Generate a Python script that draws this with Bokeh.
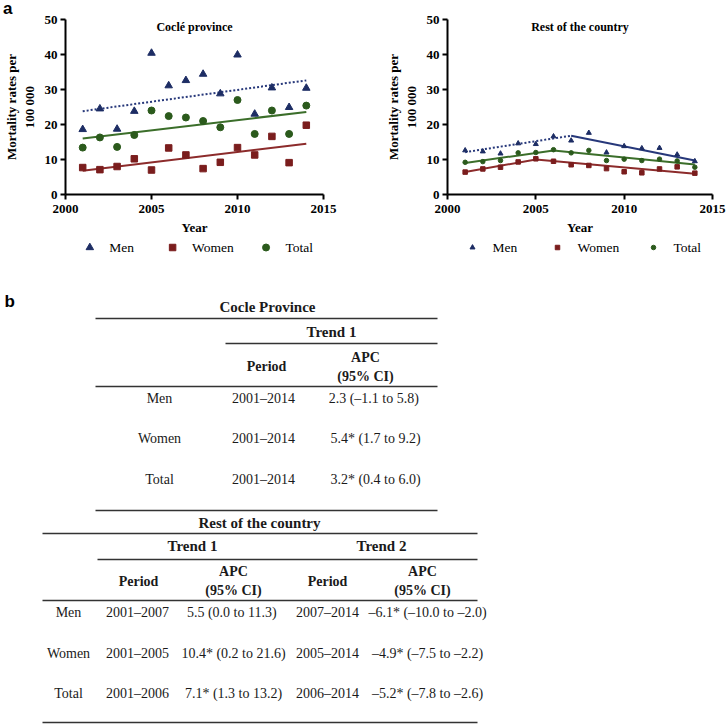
from bokeh.plotting import figure
from bokeh.models import Range1d, FixedTicker, Label, Div
from bokeh.layouts import column, row
from bokeh.embed import file_html
from bokeh.resources import INLINE
from bokeh.core.properties import value

# ---------------- data ----------------
years = [2001, 2002, 2003, 2004, 2005, 2006, 2007, 2008, 2009, 2010, 2011, 2012, 2013, 2014]

cocle_men = [18.6, 24.5, 18.7, 23.8, 40.4, 31.1, 32.6, 34.4, 28.8, 39.9, 23.0, 30.5, 24.9, 30.4]
cocle_women = [7.7, 7.1, 8.0, 10.2, 7.0, 13.3, 11.3, 7.4, 9.2, 13.4, 11.3, 16.6, 9.1, 19.8]
cocle_total = [13.4, 16.3, 13.6, 17.0, 24.0, 22.4, 22.0, 21.0, 19.2, 27.0, 17.3, 24.0, 17.3, 25.4]

rest_men = [12.6, 12.3, 11.7, 14.6, 14.4, 16.6, 15.4, 17.6, 12.0, 13.8, 13.2, 13.3, 11.4, 9.5]
rest_women = [6.4, 7.3, 7.8, 9.3, 10.2, 9.5, 8.5, 8.3, 7.4, 6.5, 6.2, 7.3, 7.9, 6.1]
rest_total = [9.2, 9.4, 9.7, 11.9, 12.0, 12.8, 11.9, 12.6, 9.7, 10.1, 9.7, 10.1, 9.6, 7.8]

# fitted joinpoint trends (year breakpoints and fitted rates)
cocle_trend_years = [2001, 2014]
cocle_men_trend = [23.8, 32.6]
cocle_women_trend = [6.8, 14.5]
cocle_total_trend = [16.0, 23.6]

rest_men_trend1_years = [2001, 2007]
rest_men_trend1 = [12.1, 16.8]
rest_men_trend2_years = [2007, 2014]
rest_men_trend2 = [16.8, 9.7]
rest_women_trend_years = [2001, 2005, 2014]
rest_women_trend = [6.4, 10.0, 5.9]
rest_total_trend_years = [2001, 2006, 2014]
rest_total_trend = [9.0, 12.6, 8.6]

x_ticks = [2000, 2005, 2010, 2015]
y_ticks = [0, 10, 20, 30, 40, 50]
series_names = ["Men", "Women", "Total"]

# table b
cocle_title = "Cocle Province"
rest_title = "Rest of the country"
trend_labels = ["Trend 1", "Trend 2"]
row_labels = ["Men", "Women", "Total"]
cocle_period = ["2001–2014", "2001–2014", "2001–2014"]
cocle_apc = ["2.3  (–1.1 to 5.8)", "5.4* (1.7 to 9.2)", "3.2* (0.4 to 6.0)"]
rest_period1 = ["2001–2007", "2001–2005", "2001–2006"]
rest_apc1 = ["5.5  (0.0 to 11.3)", "10.4* (0.2 to 21.6)", "7.1* (1.3 to 13.2)"]
rest_period2 = ["2007–2014", "2005–2014", "2006–2014"]
rest_apc2 = ["–6.1* (–10.0 to –2.0)", "–4.9* (–7.5 to –2.2)", "–5.2* (–7.8 to –2.6)"]

# ---------------- style ----------------
SERIF = "Liberation Serif"
SANS = "Liberation Sans"
C_MEN = "#1d2d64"
C_WOMEN = "#7a1d1d"
C_TOTAL = "#2b5a1c"
L_MEN = "#27387a"
L_WOMEN = "#8c2b2b"
L_TOTAL = "#3b6e2a"
MARKERS = ["triangle", "square", "circle"]
MCOLORS = [C_MEN, C_WOMEN, C_TOTAL]

PLOT_H = 238
LEG_H = 22
TOTAL_W = 726
TOTAL_H = 724
PANEL_W = 363


def make_panel(title, men, women, total, trend_lines, b_left, b_right, msizes):
    p = figure(width=PANEL_W, height=PLOT_H, x_range=Range1d(2000, 2015), y_range=Range1d(0, 50),
               output_backend="svg", toolbar_location=None,
               min_border_left=b_left, min_border_right=b_right,
               min_border_top=19, min_border_bottom=44)
    p.grid.visible = False
    p.outline_line_color = None

    for ax in (p.xaxis[0], p.yaxis[0]):
        ax.axis_line_width = 2
        ax.axis_line_color = "black"
        ax.major_tick_line_width = 2
        ax.major_tick_line_color = "black"
        ax.major_tick_out = 5
        ax.major_tick_in = 0
        ax.minor_tick_line_color = None
        ax.major_label_text_font = SERIF
        ax.major_label_text_font_style = "bold"
        ax.major_label_text_font_size = "13px"
        ax.major_label_text_color = "black"
        ax.axis_label_text_font = SERIF
        ax.axis_label_text_font_style = "bold"
        ax.axis_label_text_font_size = "13px"
        ax.axis_label_text_color = "black"
    p.xaxis.ticker = FixedTicker(ticks=x_ticks)
    p.yaxis.ticker = FixedTicker(ticks=y_ticks)
    p.xaxis.major_label_standoff = 5
    p.yaxis.major_label_standoff = 3
    p.xaxis.axis_label = "Year"
    p.xaxis.axis_label_standoff = 4
    p.yaxis.axis_label = "Mortality rates per\n100 000"
    p.yaxis.axis_label_standoff = 5

    for xs, ys, col, dash in trend_lines:
        p.line(xs, ys, line_color=col, line_width=2, line_dash=dash)

    for vals, mk, col, sz in zip([men, women, total], MARKERS, MCOLORS, msizes):
        p.scatter(years, vals, marker=mk, size=sz, color=col)

    p.add_layout(Label(x=2007.5, y=48, text=title, text_align="center", text_baseline="middle",
                       text_font=SERIF, text_font_style="bold", text_font_size="12px",
                       text_color="black"))
    return p


def make_legend_fig(x_offset, b_left, b_right, glyph_centers, msizes):
    # legend keys: a marker and the series name for each series (page-pixel x coordinates)
    x0 = x_offset + b_left
    x1 = x_offset + PANEL_W - b_right
    lf = figure(width=PANEL_W, height=LEG_H, x_range=Range1d(x0, x1), y_range=Range1d(LEG_H, 0),
                output_backend="svg", toolbar_location=None, x_axis_type=None, y_axis_type=None,
                min_border_left=b_left, min_border_right=b_right, min_border_top=0, min_border_bottom=0)
    lf.grid.visible = False
    lf.outline_line_color = None
    cy = 9
    for name, mk, col, sz, gx in zip(series_names, MARKERS, MCOLORS, msizes, glyph_centers):
        lf.scatter(x=[gx], y=[cy], marker=mk, size=sz, color=col)
        lf.text(x=[gx + 20], y=[cy], text=[name], text_font=value(SERIF), text_font_size="13.5px",
                text_align="left", text_baseline="middle", text_color="black")
    return lf


L_SIZES = [7.5, 6.5, 7]
R_SIZES = [5, 4.5, 4.5]

p1 = make_panel("Coclé province", cocle_men, cocle_women, cocle_total,
                [(cocle_trend_years, cocle_men_trend, L_MEN, "2 2"),
                 (cocle_trend_years, cocle_total_trend, L_TOTAL, "solid"),
                 (cocle_trend_years, cocle_women_trend, L_WOMEN, "solid")],
                b_left=58, b_right=40, msizes=L_SIZES)

p2 = make_panel("Rest of the country", rest_men, rest_women, rest_total,
                [(rest_men_trend1_years, rest_men_trend1, L_MEN, "2 2"),
                 (rest_men_trend2_years, rest_men_trend2, L_MEN, "solid"),
                 (rest_total_trend_years, rest_total_trend, L_TOTAL, "solid"),
                 (rest_women_trend_years, rest_women_trend, L_WOMEN, "solid")],
                b_left=84, b_right=14, msizes=R_SIZES)

leg1 = make_legend_fig(0, 58, 40, [83, 168, 264], L_SIZES)
leg2 = make_legend_fig(PANEL_W, 84, 14, [472, 557, 653], R_SIZES)

# ---------------- tables (b) ----------------
TOP = PLOT_H + LEG_H
t = figure(width=TOTAL_W, height=TOTAL_H - TOP, x_range=Range1d(0, TOTAL_W), y_range=Range1d(TOTAL_H, TOP),
           output_backend="svg", toolbar_location=None, x_axis_type=None, y_axis_type=None,
           min_border_left=0, min_border_right=0, min_border_top=0, min_border_bottom=0)
t.grid.visible = False
t.outline_line_color = None


def txt(xs, ys, texts, bold=False, size="14px"):
    t.text(x=xs, y=ys, text=texts, text_font=value(SERIF), text_font_size=size,
           text_font_style="bold" if bold else "normal", text_align="center",
           text_baseline="middle", text_color="#1a1a1a")


def hline(x0, x1, y):
    t.segment(x0=[x0], y0=[y], x1=[x1], y1=[y], line_color="#333333", line_width=1.5)


t.text(x=[4], y=[301], text=["b"], text_font=value(SANS), text_font_size="17px",
       text_font_style="bold", text_align="left", text_baseline="middle", text_color="black")

# Cocle table
txt([267], [306], [cocle_title], bold=True, size="15px")
hline(95, 437, 318)
txt([331], [331], [trend_labels[0]], bold=True, size="15px")
hline(225, 437, 343)
txt([266], [366], ["Period"], bold=True)
txt([365, 365], [357, 376], ["APC", "(95% CI)"], bold=True)
hline(95, 437, 386)
c_rows_y = [398, 438, 479]
txt([159] * 3, c_rows_y, row_labels)
txt([263] * 3, c_rows_y, cocle_period)
txt([375] * 3, c_rows_y, cocle_apc)
hline(95, 437, 510)

# Rest of the country table
txt([259], [522], [rest_title], bold=True, size="15px")
hline(42, 477, 533)
txt([192, 381], [545, 545], trend_labels, bold=True, size="15px")
hline(97, 477, 559)
txt([138, 327], [581, 581], ["Period", "Period"], bold=True)
txt([233, 233, 422, 422], [571, 590, 571, 590], ["APC", "(95% CI)", "APC", "(95% CI)"], bold=True)
hline(42, 477, 600)
r_rows_y = [612, 653, 693]
txt([68] * 3, r_rows_y, row_labels)
txt([137] * 3, r_rows_y, rest_period1)
txt([233] * 3, r_rows_y, rest_apc1)
txt([327] * 3, r_rows_y, rest_period2)
txt([427] * 3, r_rows_y, rest_apc2)
hline(42, 477, 722)

a_div = Div(text="a", width=20, height=20,
            styles={"position": "absolute", "left": "-2px", "top": "-6px", "z-index": "10",
                    "font-family": SANS, "font-weight": "bold", "font-size": "17px",
                    "color": "black", "line-height": "20px"})

layout = column(a_div, row(column(p1, leg1, spacing=0), column(p2, leg2, spacing=0), spacing=0),
                t, spacing=0)
open("out.html", "w").write(file_html(layout, INLINE))
